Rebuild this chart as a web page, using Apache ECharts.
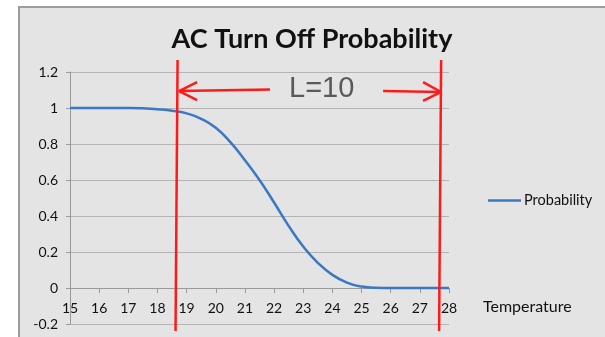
<!DOCTYPE html>
<html>
<head>
<meta charset="utf-8">
<script src="https://cdn.jsdelivr.net/npm/echarts@6/dist/echarts.min.js"></script>
<style>html,body{margin:0;padding:0;background:#fff;}#c{width:605px;height:337px;}</style>
</head>
<body>
<div id="c"></div>
<script>
const temperature = [15,15.5,16,16.5,17,17.5,18,18.5,19,19.5,20,20.5,21,21.5,22,22.5,23,23.5,24,24.5,25,25.5,26,26.5,27,27.5,28];
const probability = [1,1,1,1,1,0.998,0.993,0.985,0.97,0.94,0.89,0.81,0.71,0.6,0.475,0.345,0.23,0.14,0.073,0.03,0.008,0.001,0,0,0,0,0];
const xTicks = [15,16,17,18,19,20,21,22,23,24,25,26,27,28];
const yTicks = [-0.2,0,0.2,0.4,0.6,0.8,1,1.2];
// annotation: L = 10 window
const leftBar = [[18.69,1.267],[18.62,-0.239]];
const rightBar = [[27.73,1.267],[27.66,-0.239]];
const leftArrowShaft = [[18.74,1.094],[21.86,1.103]];
const leftArrowHead = [[19.36,1.144],[18.74,1.094],[19.36,1.044]];
const rightArrowShaft = [[25.74,1.094],[27.73,1.089]];
const rightArrowHead = [[27.11,1.144],[27.73,1.089],[27.11,1.039]];
const annotationLabel = 'L=10';

const chart = echarts.init(document.getElementById('c'), null, {renderer:'canvas'});
const font = 'Lato, "Open Sans", sans-serif';
chart.setOption({
  backgroundColor: '#ffffff',
  animation: false,
  graphic: [
    {type:'rect', z:-10, shape:{x:19, y:7, width:600, height:340}, style:{fill:'#e4e4e4', stroke:'#9c9c9c', lineWidth:2}, silent:true},
    {type:'text', z:10, left:289, top:74, style:{text:annotationLabel, font:'29px "Liberation Sans", Arial, sans-serif', fill:'#595959'}},
    {type:'text', z:10, left:483, top:299, style:{text:'Temperature', font:'16px Lato, "Open Sans", sans-serif', fill:'#111'}}
  ],
  title: {
    text: 'AC Turn Off Probability',
    left: 307, top: 21, textAlign: 'center',
    textStyle: {fontFamily: font, fontWeight: 'bold', fontSize: 27, color: '#111'}
  },
  legend: {
    data: ['Probability'], left: 483, top: 188,
    icon: 'rect', itemWidth: 33, itemHeight: 2.5, itemGap: 0,
    textStyle: {fontFamily: font, fontSize: 14.5, color: '#111', padding:[0,0,0,-2]}
  },
  grid: {left: 70, right: 156, top: 72, bottom: 13, containLabel: false},
  xAxis: {
    type: 'value', min: 15, max: 28, interval: 1, offset: -36,
    axisLine: {onZero: false, lineStyle: {color: '#999', width: 1}},
    axisTick: {show: true, inside: false, length: 5, lineStyle: {color: '#999'}},
    axisLabel: {fontFamily: font, fontSize: 14, color: '#111', margin: 13},
    splitLine: {show: false}
  },
  yAxis: {
    type: 'value', min: -0.2, max: 1.2, interval: 0.2,
    axisLine: {show: true, onZero: false, lineStyle: {color: '#999'}},
    axisTick: {show: true, length: 4, lineStyle: {color: '#999'}},
    axisLabel: {fontFamily: font, fontSize: 14, color: '#111', margin: 12},
    splitLine: {show: true, showMinLine: true, showMaxLine: true, lineStyle: {color: '#b4b4b4', width: 1}}
  },
  series: [
    {name: 'Probability', type: 'line', data: temperature.map((t,i)=>[t, probability[i]]),
     smooth: true, showSymbol: false, symbol: 'none',
     lineStyle: {color: '#3b78c4', width: 2.5}, itemStyle: {color: '#3b78c4'}, z: 5},
    ...[leftBar, rightBar, leftArrowShaft, leftArrowHead, rightArrowShaft, rightArrowHead].map(pts => ({
      type: 'line', data: pts, showSymbol: false, symbol: 'none', clip: false, silent: true,
      lineStyle: {color: '#ff1a1a', width: 2.5}, z: 8, legendHoverLink: false
    }))
  ]
});
</script>
</body>
</html>
